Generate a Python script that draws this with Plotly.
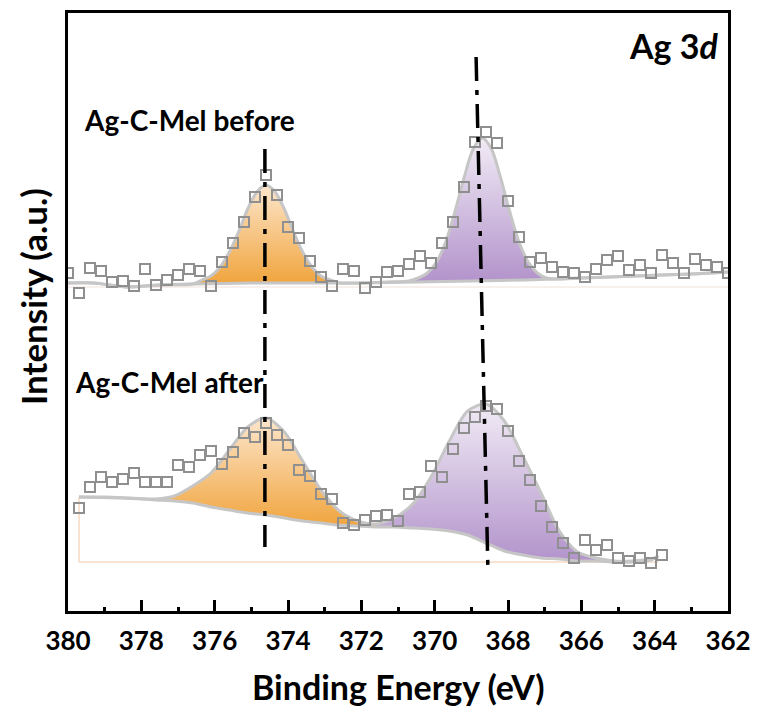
import plotly.graph_objects as go

# ---------------- data (intensity in arbitrary units) ----------------
# "Ag-C-Mel before" raw points
top_E = [380.0, 379.7, 379.4, 379.1, 378.8, 378.5, 378.2, 377.9, 377.6, 377.3,
         377.0, 376.7, 376.4, 376.1, 375.8, 375.5, 375.2, 374.9, 374.6, 374.3,
         374.0, 373.7, 373.4, 373.1, 372.8, 372.5, 372.2, 371.9, 371.6, 371.3,
         371.0, 370.7, 370.4, 370.1, 369.8, 369.5, 369.2, 368.9, 368.6, 368.3,
         368.0, 367.7, 367.4, 367.1, 366.8, 366.5, 366.2, 365.9, 365.6, 365.3,
         365.0, 364.7, 364.4, 364.1, 363.8, 363.5, 363.2, 362.9, 362.6, 362.3, 362.0]
top_I = [338, 318, 343, 340, 329, 330, 325, 342, 326, 331,
         336, 342, 340, 325, 349, 368, 389, 414, 436, 416,
         384, 373, 350, 334, 325, 342, 340, 323, 329, 339,
         340, 347, 355, 348, 368, 389, 424, 469, 479, 468,
         410, 374, 349, 353, 344, 339, 338, 334, 342, 351,
         355, 341, 346, 338, 356, 348, 338, 352, 346, 344, 338]

# "Ag-C-Mel before" fitted envelope and background
top_fit_E = [380.0, 379.3, 378.4, 377.5, 376.6, 376.35, 376.1, 375.85, 375.6, 375.35,
             375.1, 374.85, 374.6, 374.35, 374.1, 373.85, 373.6, 373.35, 373.1, 372.85,
             372.6, 372.0, 371.3, 370.7, 370.45, 370.2, 369.95, 369.7, 369.45, 369.2,
             368.95, 368.7, 368.45, 368.2, 367.95, 367.7, 367.45, 367.2, 366.95, 366.7,
             366.0, 364.5, 363.0, 362.0]
top_fit_I = [328, 328, 324, 326, 327, 331, 335, 344, 359, 379,
             402, 419, 426, 419, 402, 379, 359, 344, 335, 331,
             328, 328, 329, 330, 333, 338, 349, 369, 399, 433,
             462, 473, 462, 433, 399, 369, 349, 338, 333, 332,
             333, 335, 337, 339]
top_bg_E = [380.0, 379.3, 378.4, 377.5, 376.6, 375.0, 373.5, 372.0, 370.5, 369.0,
            367.5, 366.0, 364.5, 363.0, 362.0]
top_bg_I = [328, 328, 324, 326, 327, 328, 328, 328, 329, 330,
            331, 333, 335, 337, 339]
top_floor_I = 324

# "Ag-C-Mel after" raw points
bot_E = [379.7, 379.4, 379.1, 378.8, 378.5, 378.2, 377.9, 377.6, 377.3, 377.0,
         376.7, 376.4, 376.1, 375.8, 375.5, 375.2, 374.9, 374.6, 374.3, 374.0,
         373.7, 373.4, 373.1, 372.8, 372.5, 372.2, 371.9, 371.6, 371.3, 371.0,
         370.7, 370.4, 370.1, 369.8, 369.5, 369.2, 368.9, 368.6, 368.3, 368.0,
         367.7, 367.4, 367.1, 366.8, 366.5, 366.2, 365.9, 365.6, 365.3, 365.0,
         364.7, 364.4, 364.1, 363.8]
bot_I = [103, 124, 134, 129, 132, 138, 129, 129, 129, 146,
         144, 156, 160, 147, 159, 178, 174, 188, 176, 166,
         141, 135, 117, 112, 88, 86, 91, 95, 96, 90,
         117, 119, 145, 134, 162, 183, 194, 205, 202, 180,
         150, 131, 105, 84, 68, 53, 71, 61, 66, 53,
         50, 53, 48, 56]

# "Ag-C-Mel after" fitted envelope and Shirley background
bot_fit_E = [379.7, 379.0, 378.3, 377.6, 377.1, 376.6, 376.1, 375.6, 375.1, 374.6,
             374.1, 373.6, 373.1, 372.6, 372.1, 371.6, 371.1, 370.6, 370.1, 369.6,
             369.1, 368.6, 368.1, 367.6, 367.1, 366.6, 366.1, 365.6, 365.1, 364.6,
             364.1, 363.9]
bot_fit_I = [114, 114, 113, 112, 115, 125, 138, 161, 184, 193,
             179, 150, 121, 100, 90, 87, 93, 107, 134, 170,
             200, 207, 190, 155, 118, 80, 59, 53, 50, 50,
             52, 55]
bot_bg_E = [379.7, 378.5, 377.6, 377.1, 376.6, 376.1, 375.6, 375.1, 374.6, 374.1,
            373.6, 373.1, 372.6, 372.1, 371.6, 371.1, 370.6, 370.1, 369.6, 369.1,
            368.6, 368.1, 367.6, 367.1, 366.6, 366.1, 365.6, 365.1, 364.6, 364.1, 363.9]
bot_bg_I = [114, 113, 111, 110, 108, 104, 101, 98, 96, 93,
            90, 88, 86, 85, 84, 84, 83, 82, 80, 76,
            68, 60, 56, 53, 52, 50, 50, 49, 49, 51, 55]
bot_floor_I = 49

# component ranges (eV, high -> low)
top_d52_range = (376.6, 372.6)
top_d32_range = (370.7, 366.7)
bot_d52_range = (377.6, 371.6)
bot_d32_range = (371.6, 365.6)

# guide lines (dash-dot)
guide1_E = [374.63, 374.63]
guide1_I = [462, 64]
guide2_E = [368.87, 368.55]
guide2_I = [554, 46]

x_ticks = [380, 378, 376, 374, 372, 370, 368, 366, 364, 362]

FONT = "Lato"
ORANGE = [[0, "#f0a43c"], [1, "#fde6cc"]]
PURPLE = [[0, "#b293cb"], [1, "#f1ebf5"]]
GREY = "#c6c6c6"
MARK = "#8f8f8f"


def component_polygon(fE, fI, bE, bI, rng):
    hi, lo = rng
    ex = [e for e in fE if lo <= e <= hi]
    ey = [i for e, i in zip(fE, fI) if lo <= e <= hi]
    bx = [e for e in bE if lo <= e <= hi][::-1]
    by = [i for e, i in zip(bE, bI) if lo <= e <= hi][::-1]
    return ex + bx, ey + by


fig = go.Figure()

# faint fill floors
fig.add_trace(go.Scatter(x=[top_E[0], top_E[-1]], y=[top_floor_I, top_floor_I],
                         mode="lines", line=dict(color="#f1e0da", width=1),
                         hoverinfo="skip", showlegend=False))
fig.add_trace(go.Scatter(x=[bot_E[0], bot_E[0], bot_fit_E[-1]],
                         y=[bot_bg_I[0], bot_floor_I, bot_floor_I],
                         mode="lines", line=dict(color="#f2c8a6", width=1),
                         hoverinfo="skip", showlegend=False))

# component fills
for fE, fI, bE, bI, rng, cs in [
    (top_fit_E, top_fit_I, top_bg_E, top_bg_I, top_d52_range, ORANGE),
    (top_fit_E, top_fit_I, top_bg_E, top_bg_I, top_d32_range, PURPLE),
    (bot_fit_E, bot_fit_I, bot_bg_E, bot_bg_I, bot_d52_range, ORANGE),
    (bot_fit_E, bot_fit_I, bot_bg_E, bot_bg_I, bot_d32_range, PURPLE),
]:
    px, py = component_polygon(fE, fI, bE, bI, rng)
    fig.add_trace(go.Scatter(x=px, y=py, mode="lines", fill="toself",
                             line=dict(width=0, shape="spline", smoothing=0.8),
                             fillgradient=dict(type="vertical", colorscale=cs),
                             hoverinfo="skip", showlegend=False))

# background and envelope lines
for xE, yI in [(top_bg_E, top_bg_I), (top_fit_E, top_fit_I),
               (bot_bg_E, bot_bg_I), (bot_fit_E, bot_fit_I)]:
    fig.add_trace(go.Scatter(x=xE, y=yI, mode="lines",
                             line=dict(color=GREY, width=3, shape="spline", smoothing=0.8),
                             hoverinfo="skip", showlegend=False))

# raw data
for xE, yI in [(top_E, top_I), (bot_E, bot_I)]:
    fig.add_trace(go.Scatter(x=xE, y=yI, mode="markers",
                             marker=dict(symbol="square-open", size=10, color=MARK,
                                         line=dict(width=2, color=MARK)),
                             showlegend=False))

# guide lines
for xE, yI in [(guide1_E, guide1_I), (guide2_E, guide2_I)]:
    fig.add_trace(go.Scatter(x=xE, y=yI, mode="lines",
                             line=dict(color="black", width=3.5, dash="24px,9px,5px,9px"),
                             hoverinfo="skip", showlegend=False))

fig.update_layout(
    template="none",
    width=759, height=713,
    margin=dict(l=68, r=31, t=13, b=102, autoexpand=False),
    paper_bgcolor="white", plot_bgcolor="white",
    font=dict(family=FONT, color="black"),
    showlegend=False,
)
fig.update_xaxes(range=[380, 362], tickvals=x_ticks, ticktext=[str(t) for t in x_ticks],
                 ticks="inside", ticklen=11, tickwidth=2.5, tickcolor="black",
                 minor=dict(dtick=1, ticks="inside", ticklen=4, tickwidth=2.5, tickcolor="black"),
                 showline=True, linewidth=3, linecolor="black", mirror=True,
                 showgrid=False, zeroline=False, automargin=False,
                 ticklabelstandoff=5,
                 tickfont=dict(family=FONT, size=26, weight="bold"))
fig.update_yaxes(range=[0, 598], showticklabels=False, ticks="",
                 showline=True, linewidth=3, linecolor="black", mirror=True,
                 showgrid=False, zeroline=False, automargin=False)

ann = [
    dict(text="Binding Energy (eV)", x=0.5, y=-0.126, size=34, angle=0),
    dict(text="Intensity (a.u.)", x=-0.053, y=0.525, size=35, angle=-90),
]
for a in ann:
    fig.add_annotation(text=a["text"], xref="paper", yref="paper", x=a["x"], y=a["y"],
                       xanchor="center", yanchor="middle", textangle=a["angle"],
                       showarrow=False,
                       font=dict(family=FONT, size=a["size"], weight="bold", color="black"))

fig.add_annotation(text="Ag 3<i>d</i>", xref="paper", yref="paper", x=0.99, y=0.946,
                   xanchor="right", yanchor="middle", showarrow=False,
                   font=dict(family=FONT, size=34, weight="bold", color="black"))
fig.add_annotation(text="Ag-C-Mel before", xref="x", yref="y", x=379.62, y=491,
                   xanchor="left", yanchor="middle", showarrow=False,
                   font=dict(family=FONT, size=28, weight="bold", color="black"))
fig.add_annotation(text="Ag-C-Mel after", xref="x", yref="y", x=379.86, y=229,
                   xanchor="left", yanchor="middle", showarrow=False,
                   font=dict(family=FONT, size=28, weight="bold", color="black"))

fig.write_html("out.html", config={"displayModeBar": False},
               post_script="document.body.style.margin='0';")
